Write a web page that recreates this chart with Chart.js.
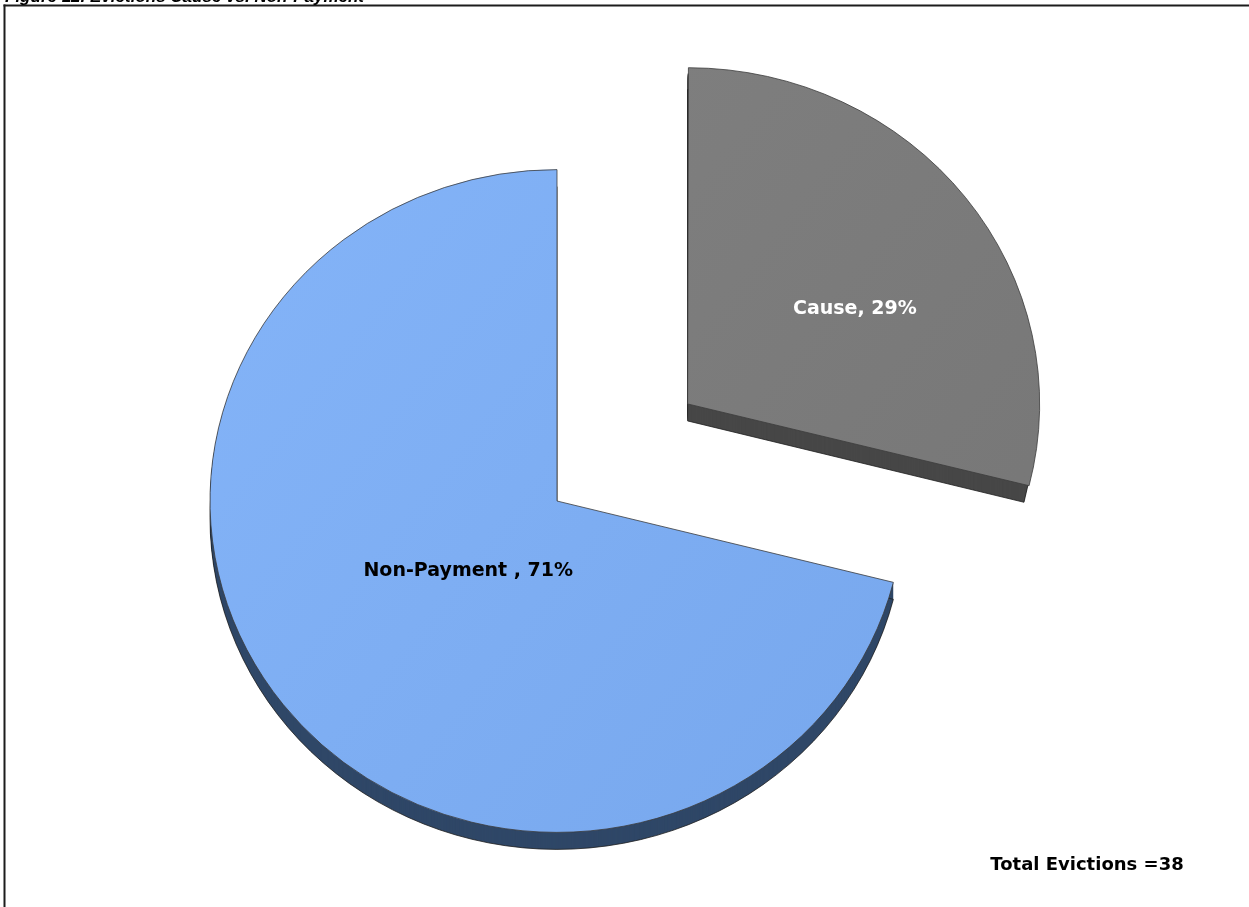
<!DOCTYPE html>
<html>
<head>
<meta charset="utf-8">
<title>Evictions Cause vs. Non-Payment</title>
<script src="https://cdn.jsdelivr.net/npm/chart.js@4.4.0/dist/chart.umd.min.js"></script>
<style>
  html, body { margin: 0; padding: 0; background: #fff; overflow: hidden; }
  #wrap { position: relative; width: 1249px; height: 907px; }
</style>
</head>
<body>
<div id="wrap"><canvas id="chart"></canvas></div>
<script>
// Eviction counts by reason
const categories = ['Cause', 'Non-Payment '];
const evictions = [11, 27];
const titleText = 'Figure 12. Evictions Cause vs. Non-Payment';
const totalPrefix = 'Total Evictions =';

const total = evictions.reduce((a, b) => a + b, 0);
const percentLabels = evictions.map(v => Math.round(v / total * 100) + '%');

// Look of the tilted 3D pie
const TILT = 0.955;          // vertical squash of the pie disc
const DEPTH = 17;            // thickness of the disc, px
const faceColors = [['#838383', '#747474'], ['#86B6FA', '#75A5EB']];
const sideColors = ['#474747', '#2F4767'];
const labelColors = ['#ffffff', '#000000'];
// where each label sits: fraction along the slice angle, fraction of radius
const labelSpots = [[0.57, 0.56], [0.494, 0.331]];

function arcGeom(arc) {
  const p = arc.getProps(['x', 'y', 'startAngle', 'endAngle', 'outerRadius', 'circumference'], true);
  const off = (arc.options.offset || 0) / 4;   // ArcElement moves by offset / 4
  const mid = (p.startAngle + p.endAngle) / 2;
  return {
    cx: p.x, cy: p.y,
    x: p.x + Math.cos(mid) * off,
    y: p.y + Math.sin(mid) * off,
    r: p.outerRadius,
    start: p.startAngle, end: p.endAngle
  };
}

const pie3d = {
  id: 'pie3d',
  beforeDatasetsDraw(chart) {
    const ctx = chart.ctx;
    const meta = chart.getDatasetMeta(0);
    const g0 = arcGeom(meta.data[0]);
    ctx.save();
    ctx.translate(g0.cx, g0.cy);
    ctx.scale(1, TILT);
    ctx.translate(-g0.cx, -g0.cy);
    meta.data.forEach((arc, i) => {
      const g = arcGeom(arc);
      ctx.fillStyle = sideColors[i];
      for (let d = DEPTH; d >= 1; d--) {
        const dy = d / TILT;
        ctx.beginPath();
        ctx.moveTo(g.x, g.y + dy);
        ctx.arc(g.x, g.y + dy, g.r, g.start, g.end);
        ctx.closePath();
        ctx.fill();
      }
      ctx.beginPath();
      ctx.moveTo(g.x, g.y + DEPTH / TILT);
      ctx.arc(g.x, g.y + DEPTH / TILT, g.r, g.start, g.end);
      ctx.closePath();
      ctx.lineWidth = 0.8;
      ctx.strokeStyle = '#1e1e1e';
      ctx.stroke();
    });
  },
  afterDatasetsDraw(chart) {
    const ctx = chart.ctx;
    ctx.restore();
    const meta = chart.getDatasetMeta(0);
    ctx.save();
    ctx.font = 'bold 19px "DejaVu Sans", sans-serif';
    ctx.textAlign = 'center';
    ctx.textBaseline = 'middle';
    meta.data.forEach((arc, i) => {
      const g = arcGeom(arc);
      const [af, rf] = labelSpots[i];
      const a = g.start + af * (g.end - g.start);
      const px = g.x + Math.cos(a) * rf * g.r;
      const py = g.y + Math.sin(a) * rf * g.r;
      const sy = g.cy + (py - g.cy) * TILT;
      ctx.fillStyle = labelColors[i];
      ctx.fillText(categories[i] + ', ' + percentLabels[i], px, sy);
    });
    ctx.restore();
  },
  afterDraw(chart) {
    const ctx = chart.ctx;
    ctx.save();
    // frame
    ctx.fillStyle = '#1c1c1c';
    ctx.fillRect(3.5, 4.5, chart.width, 2);
    ctx.fillRect(3.5, 4.5, 2, chart.height);
    // figure caption
    ctx.fillStyle = '#000';
    ctx.font = 'italic bold 17px "Liberation Sans", Arial, sans-serif';
    ctx.textAlign = 'left';
    ctx.textBaseline = 'alphabetic';
    ctx.fillText(titleText, 5, 1.5);
    // total
    ctx.font = 'bold 18px "DejaVu Sans", sans-serif';
    ctx.textAlign = 'center';
    ctx.textBaseline = 'middle';
    ctx.fillText(totalPrefix + total, 1087, 865);
    ctx.restore();
  }
};

new Chart(document.getElementById('chart'), {
  type: 'pie',
  data: {
    labels: categories,
    datasets: [{
      data: evictions,
      backgroundColor(c) {
        const chart = c.chart;
        const a = chart.chartArea;
        if (!a) return faceColors[c.dataIndex][0];
        const grd = chart.ctx.createLinearGradient(a.left, a.top, a.right, a.bottom);
        grd.addColorStop(0, faceColors[c.dataIndex][0]);
        grd.addColorStop(1, faceColors[c.dataIndex][1]);
        return grd;
      },
      borderColor: '#3a3a3a',
      borderWidth: 0.8,
      offset: [662, 0],
      hoverOffset: 0,
      clip: false
    }]
  },
  options: {
    responsive: true,
    maintainAspectRatio: false,
    animation: false,
    events: [],
    radius: 347,
    layout: { padding: { left: 20, right: 155, top: 102, bottom: 7 } },
    plugins: {
      legend: { display: false },
      tooltip: { enabled: false },
      title: { display: false }
    }
  },
  plugins: [pie3d]
});
</script>
</body>
</html>
